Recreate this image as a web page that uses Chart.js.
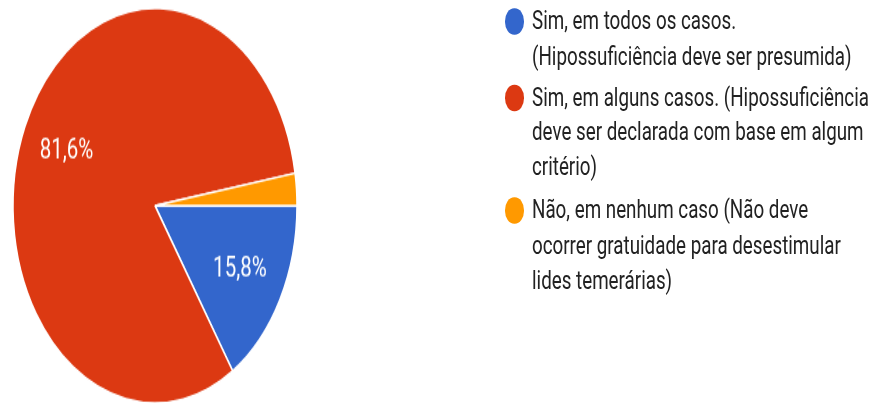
<!DOCTYPE html>
<html>
<head>
<meta charset="utf-8">
<script src="https://cdn.jsdelivr.net/npm/chart.js@4.4.1/dist/chart.umd.min.js"></script>
<style>
  html, body { margin: 0; padding: 0; background: #fff; overflow: hidden; }
  body { width: 875px; height: 403px; position: relative; }
  /* the reference is stretched vertically, so draw flat and stretch the stage */
  #stage { position: absolute; left: 0; top: 0; width: 875px; height: 290px;
           transform: scaleY(1.3897); transform-origin: 0 0; }
  #pie { position: absolute; left: 0; top: 0; width: 310px; height: 296px; }
  .item { position: absolute; left: 505px; font-family: Roboto, sans-serif;
          font-size: 18.8px; line-height: 25.2px; color: #222; }
  .dot { position: absolute; left: 0; top: 3px; width: 18.5px; height: 18.5px; border-radius: 50%; }
  .txt { position: absolute; left: 27px; top: 0; white-space: nowrap; }
</style>
</head>
<body>
<div id="stage">
  <canvas id="pie" width="310" height="296"></canvas>
  <div id="legend"></div>
</div>
<script>
// -------------------------
// Data
// -------------------------
const labels = [
  "Sim, em todos os casos. (Hipossuficiência deve ser presumida)",
  "Sim, em alguns casos. (Hipossuficiência deve ser declarada com base em algum critério)",
  "Não, em nenhum caso (Não deve ocorrer gratuidade para desestimular lides temerárias)"
];
const labelLines = [
  ["Sim, em todos os casos.", "(Hipossuficiência deve ser presumida)"],
  ["Sim, em alguns casos. (Hipossuficiência", "deve ser declarada com base em algum", "critério)"],
  ["Não, em nenhum caso (Não deve", "ocorrer gratuidade para desestimular", "lides temerárias)"]
];
const counts = [6, 31, 1];
const colors = ["#3366cc", "#dc3912", "#ff9900"];

// legend item tops (unstretched px)
const legendTops = [3.3, 58, 139.3];

// -------------------------
// Legend (html)
// -------------------------
const legendEl = document.getElementById("legend");
labels.forEach((lab, i) => {
  const item = document.createElement("div");
  item.className = "item";
  item.style.top = legendTops[i] + "px";
  item.title = lab;
  const dot = document.createElement("div");
  dot.className = "dot";
  dot.style.background = colors[i];
  const txt = document.createElement("div");
  txt.className = "txt";
  txt.innerHTML = labelLines[i].join("<br>");
  item.appendChild(dot);
  item.appendChild(txt);
  legendEl.appendChild(item);
});

// -------------------------
// Percent labels inside slices
// -------------------------
const sliceLabels = {
  id: "sliceLabels",
  afterDatasetsDraw(chart) {
    const ctx = chart.ctx;
    const data = chart.data.datasets[0].data;
    const total = data.reduce((a, b) => a + b, 0);
    const meta = chart.getDatasetMeta(0);
    ctx.save();
    ctx.fillStyle = "#fff";
    ctx.font = "20.5px Roboto";
    ctx.textAlign = "center";
    ctx.textBaseline = "middle";
    meta.data.forEach((arc, i) => {
      const pct = data[i] / total * 100;
      if (pct < 5) return;
      const p = arc.getProps(["x", "y", "startAngle", "endAngle", "outerRadius"], true);
      const mid = (p.startAngle + p.endAngle) / 2;
      const r = p.outerRadius * 0.68;
      ctx.fillText(pct.toFixed(1).replace(".", ",") + "%", p.x + Math.cos(mid) * r, p.y + Math.sin(mid) * r);
    });
    ctx.restore();
  }
};

new Chart(document.getElementById("pie"), {
  type: "pie",
  data: {
    labels: labels,
    datasets: [{
      data: counts,
      backgroundColor: colors,
      borderColor: "#fff",
      borderWidth: 1.5
    }]
  },
  options: {
    responsive: false,
    animation: false,
    rotation: 90,
    radius: 142,
    layout: { padding: 0 },
    plugins: { legend: { display: false }, tooltip: { enabled: false } }
  },
  plugins: [sliceLabels]
});
</script>
</body>
</html>
